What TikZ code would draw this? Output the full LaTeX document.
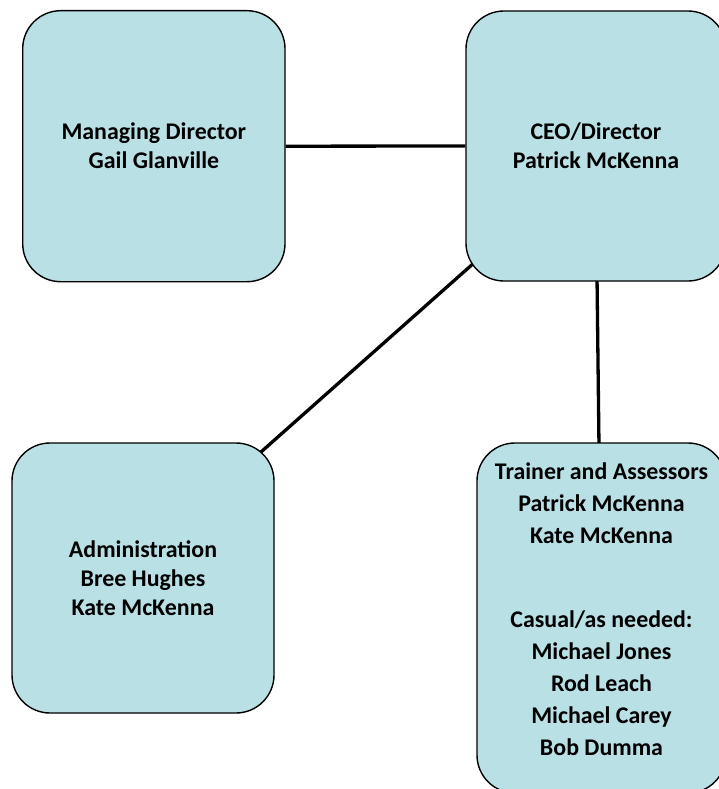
\documentclass[tikz,border=0pt]{standalone}
\usepackage{fontspec}
\setmainfont{Carlito}
\usetikzlibrary{calc,backgrounds}
\definecolor{boxfill}{RGB}{185,224,228}
\begin{document}
\begin{tikzpicture}[x=1pt,y=-1pt,
  orgbox/.style={draw=black,line width=1.4pt,fill=boxfill,rounded corners=38pt,inner sep=0pt,align=center,font=\fontsize{23.9}{29}\selectfont\bfseries},
  boxtext/.style={align=center,inner sep=0pt,font=\fontsize{23.9}{32}\selectfont\bfseries},
  link/.style={line width=3.3pt,draw=black}]
\useasboundingbox (0,0) rectangle (718,789);
\node[orgbox,minimum width=262.3pt,minimum height=271pt] (md) at (153.85,146.2) {Managing Director\\Gail Glanville};
\node[orgbox,minimum width=260pt,minimum height=270pt] (ceo) at (596,146) {CEO/Director\\Patrick McKenna};
\node[orgbox,minimum width=262pt,minimum height=270pt] (admin) at (143,578) {Administration\\Bree Hughes\\Kate McKenna};
\node[orgbox,minimum width=249pt,minimum height=350pt] (trainer) at (601.5,618) {};
\node[boxtext] (trainertext) at (601.5,609) {Trainer and Assessors\\Patrick McKenna\\Kate McKenna\\[52pt]Casual/as needed:\\Michael Jones\\Rod Leach\\Michael Carey\\Bob Dumma};
\begin{scope}[on background layer]
\draw[link] (md.east) -- (ceo.west);
\draw[link] ($(ceo.south west)+(17.5,-26.6)$) -- ($(admin.north east)+(-21.5,16.6)$);
\draw[link] ($(ceo.south)+(1,-5)$) -- ($(trainer.north)+(-2.5,5)$);
\end{scope}
\end{tikzpicture}
\end{document}
